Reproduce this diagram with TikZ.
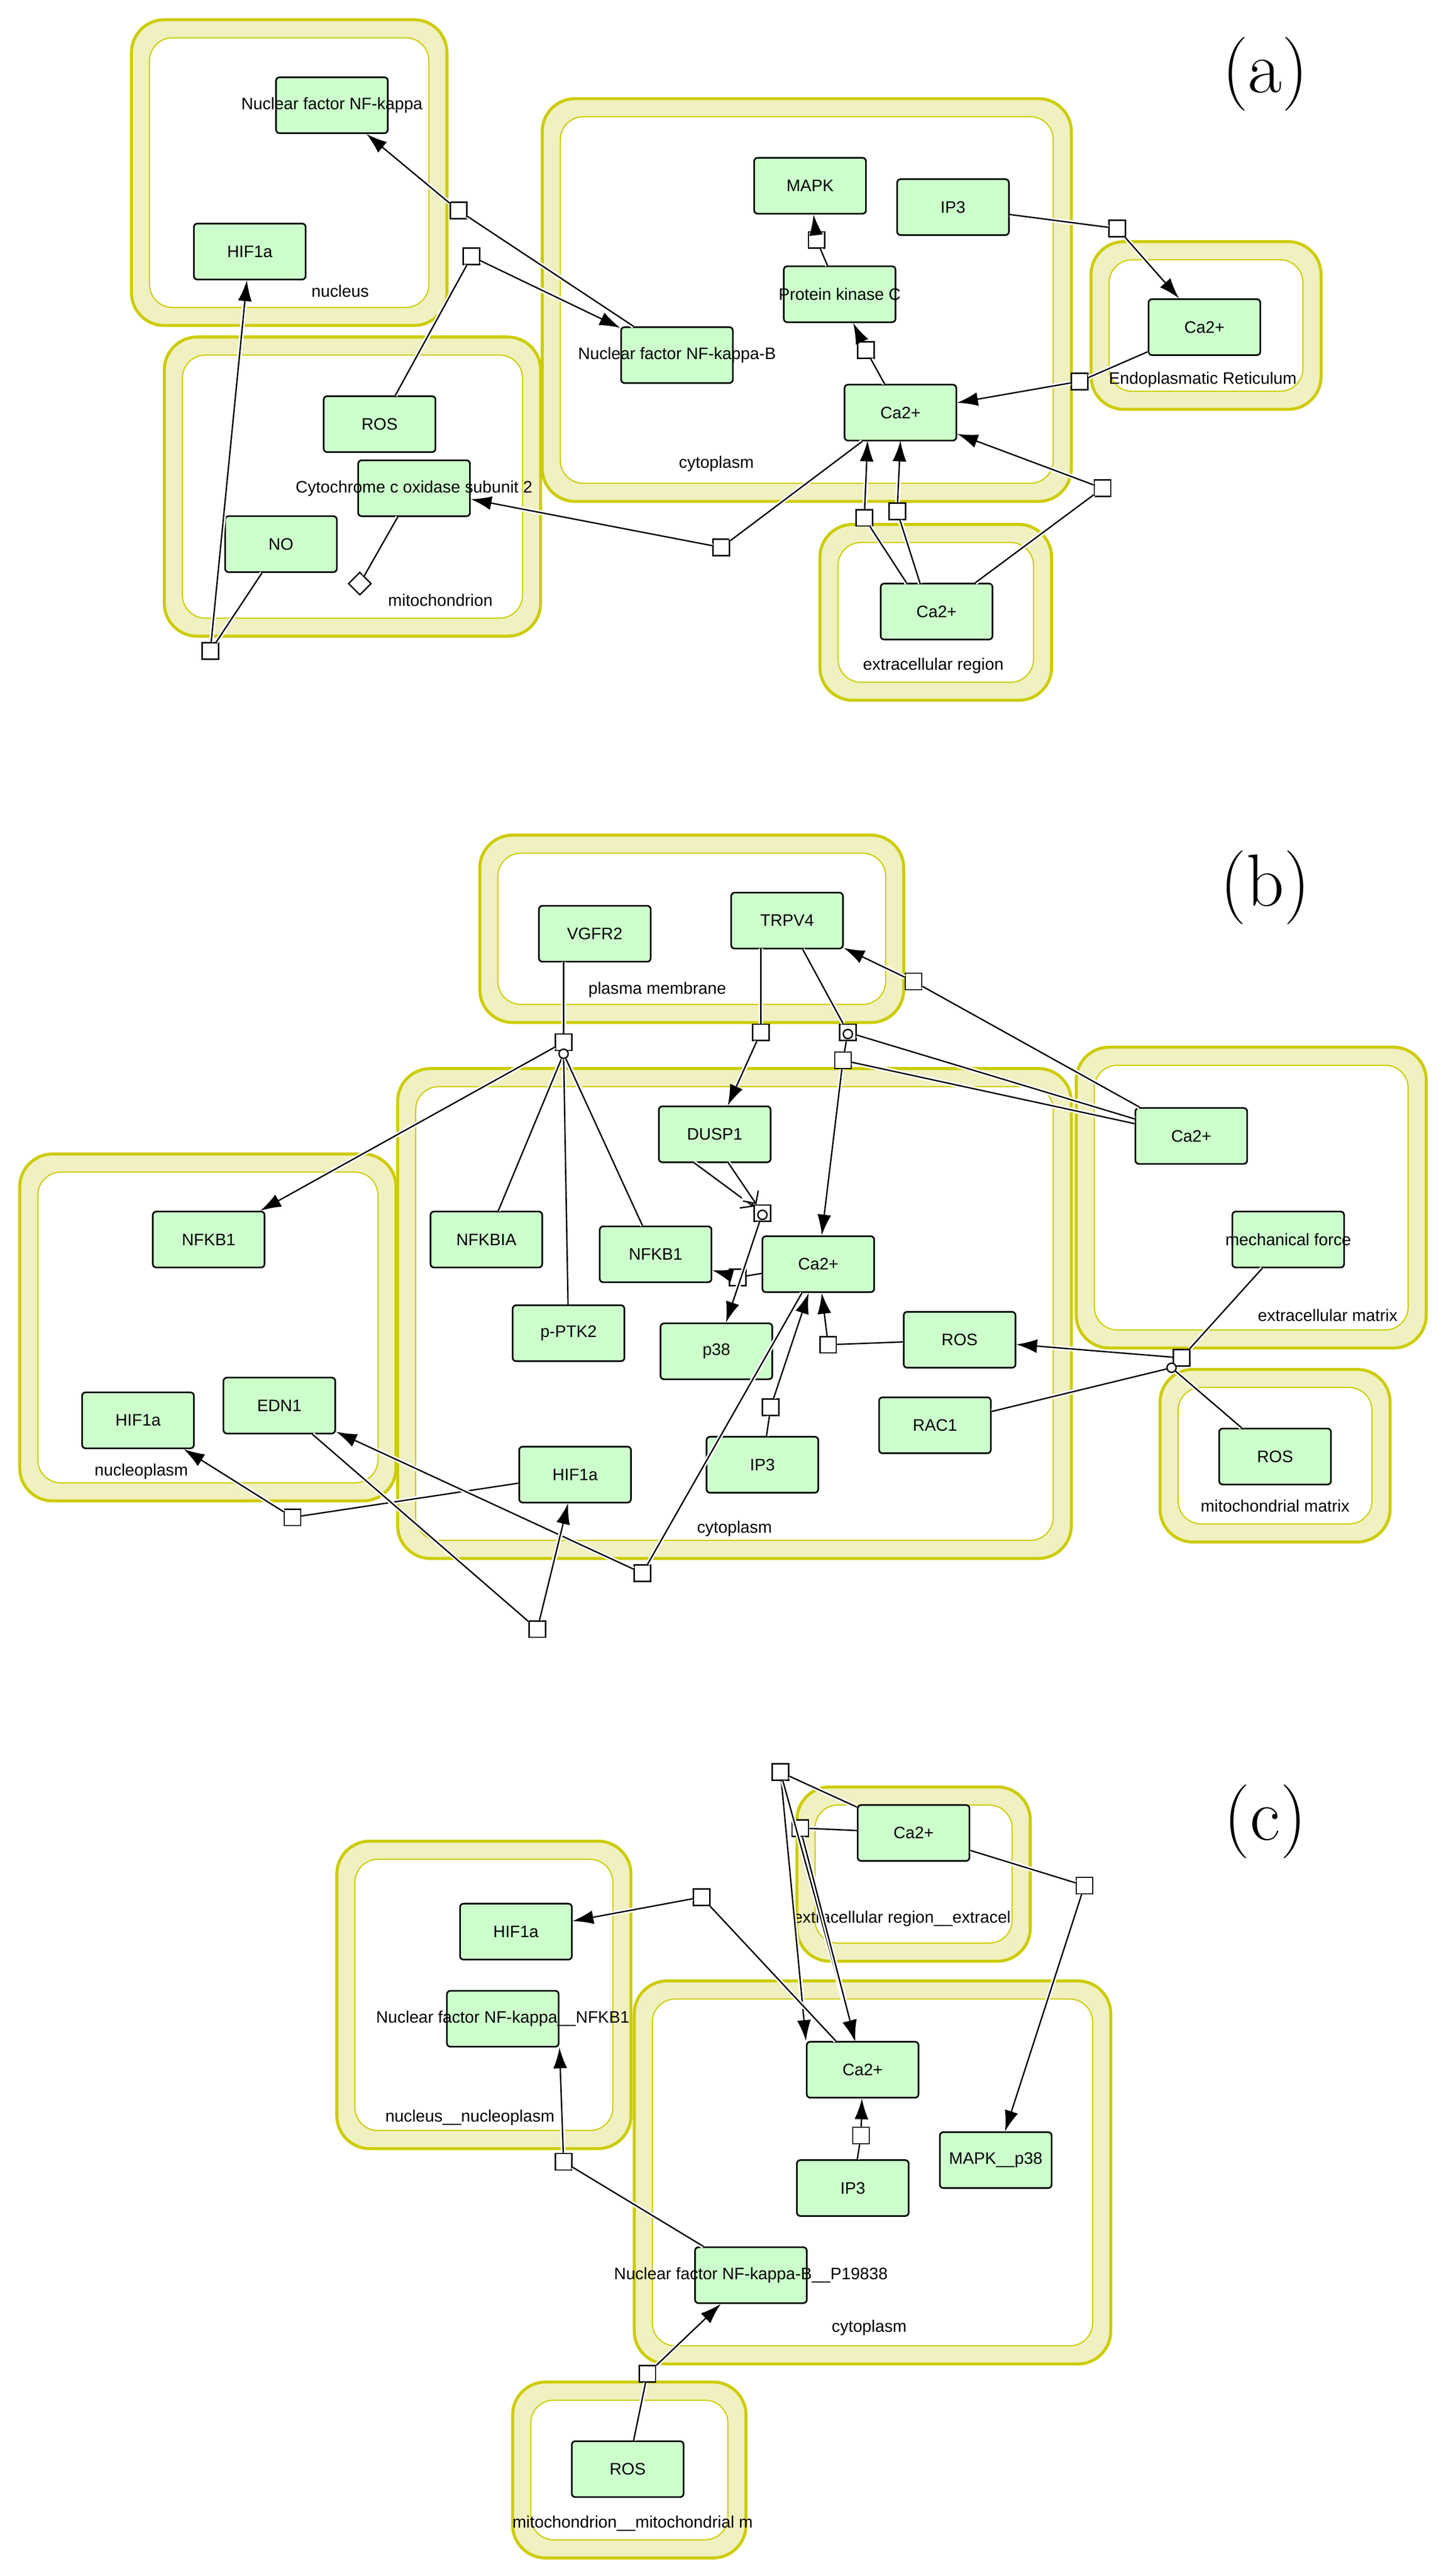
\documentclass[tikz,border=0pt]{standalone}
\usepackage{fontspec}
\setsansfont{Liberation Sans}
\usetikzlibrary{arrows.meta,shapes.geometric}
\definecolor{cfill}{HTML}{F0F0C0}
\definecolor{cline}{HTML}{CCCC00}
\definecolor{gfill}{HTML}{CCFFCC}
\tikzset{
 comp/.style={draw=cline,line width=1.3pt,fill=cfill,rounded corners=0.5cm},
 compin/.style={draw=cline,line width=0.5pt,fill=white,rounded corners=0.35cm},
 clab/.style={font=\sffamily\fontsize{7.2}{8}\selectfont},
 gn/.style={draw,line width=0.7pt,fill=gfill,rounded corners=1.5pt,minimum width=1.7cm,minimum height=0.85cm,inner sep=0pt},
 pr/.style={draw,line width=0.6pt,fill=white,minimum size=0.25cm,inner sep=0pt},
 cir/.style={draw,line width=0.6pt,fill=white,circle,minimum size=0.14cm,inner sep=0pt},
 ed/.style={line width=0.6pt,preaction={draw=white,line width=2pt}},
 ar/.style={ed,-{Latex[length=9pt,width=6pt]}},
 big/.style={font=\fontsize{32}{36}\selectfont},
}
\newcommand{\gnd}[4]{\node[gn,label={[clab]center:#4}] (#1) at (#2,#3) {};}
\newcommand{\compt}[6]{\draw[comp] (#1,#2) rectangle (#3,#4);
 \draw[compin] (#1+11,#2+11) rectangle (#3-11,#4-11);}
\begin{document}
\begin{tikzpicture}[x=0.025cm,y=-0.025cm]
\useasboundingbox (0,0) rectangle (880,1567);
% ---------------- (a)
\compt{80}{12}{272}{198}{}{}
\compt{100}{205}{329}{387}{}{}
\compt{330}{60}{652}{305}{}{}
\compt{664}{147}{804}{249}{}{}
\compt{499}{319}{640}{426}{}{}
\node[clab] (la1) at (207,177) {nucleus};
\node[clab] (la2) at (268,365) {mitochondrion};
\node[clab] (la3) at (436,282) {cytoplasm};
\node[clab] (la4) at (732,231) {Endoplasmatic Reticulum};
\node[clab] (la5) at (568,405) {extracellular region};
\node[big] (ta) at (770,45) {(a)};
\gnd{anfk}{202}{64}{Nuclear factor NF-kappa}
\gnd{ahif}{152}{153}{HIF1a}
\gnd{anfkb}{412}{216}{Nuclear factor NF-kappa-B}
\gnd{aros}{231}{258}{ROS}
\gnd{acox}{252}{297}{Cytochrome c oxidase subunit 2}
\gnd{ano}{171}{331}{NO}
\gnd{amapk}{493}{113}{MAPK}
\gnd{aip3}{580}{126}{IP3}
\gnd{apkc}{511}{179}{Protein kinase C}
\gnd{aca}{548}{251}{Ca2+}
\gnd{acaer}{733}{199}{Ca2+}
\gnd{acaex}{570}{372}{Ca2+}
\node[pr] (as1) at (279,128) {};
\node[pr] (as2) at (287,156) {};
\node[pr] (as3) at (128,396) {};
\node[draw,line width=0.6pt,fill=white,diamond,minimum size=0.35cm,inner sep=0pt] (adia) at (219,355) {};
\node[pr] (as4) at (439,333) {};
\node[pr] (as5) at (527,213) {};
\node[pr] (as6) at (497,146) {};
\node[pr] (as7) at (680,139) {};
\node[pr] (as8) at (657,232) {};
\node[pr] (as9) at (671,297) {};
\node[pr] (as10) at (526,315) {};
\node[pr] (as11) at (546,311) {};
\coordinate (aca1) at (528,268); \coordinate (aca2) at (548,268);
\coordinate (aex1) at (552,355); \coordinate (aex2) at (560,355);
\draw[ed] (anfkb) -- (as1); \draw[ar] (as1) -- (anfk);
\draw[ed] (aros) -- (as2); \draw[ar] (as2) -- (anfkb);
\draw[ed] (ano) -- (as3); \draw[ar] (as3) -- (ahif);
\draw[ed] (acox) -- (adia);
\draw[ed] (aca) -- (as4); \draw[ar] (as4) -- (acox);
\draw[ed] (aca) -- (as5); \draw[ar] (as5) -- (apkc);
\draw[ed] (apkc) -- (as6); \draw[ar] (as6) -- (amapk);
\draw[ed] (aip3) -- (as7); \draw[ar] (as7) -- (acaer);
\draw[ed] (acaer) -- (as8); \draw[ar] (as8) -- (aca);
\draw[ed] (acaex) -- (as9); \draw[ar] (as9) -- (aca);
\draw[ed] (aex1) -- (as10); \draw[ar] (as10) -- (aca1);
\draw[ed] (aex2) -- (as11); \draw[ar] (as11) -- (aca2);
% ---------------- (b)
\compt{292}{508}{550}{622}{}{}
\compt{242}{650}{652}{948}{}{}
\compt{12}{702}{241}{913}{}{}
\compt{655}{637}{868}{820}{}{}
\compt{706}{833}{846}{938}{}{}
\node[clab] (lb1) at (400,602) {plasma membrane};
\node[clab] (lb2) at (447,930) {cytoplasm};
\node[clab] (lb3) at (86,895) {nucleoplasm};
\node[clab] (lb4) at (808,800) {extracellular matrix};
\node[clab] (lb5) at (776,916) {mitochondrial matrix};
\node[big] (tb) at (770,540) {(b)};
\gnd{bvg}{362}{568}{VGFR2}
\gnd{btr}{479}{560}{TRPV4}
\gnd{bdu}{435}{690}{DUSP1}
\gnd{bnn}{127}{754}{NFKB1}
\gnd{bnia}{296}{754}{NFKBIA}
\gnd{bnc}{399}{763}{NFKB1}
\gnd{bca}{498}{769}{Ca2+}
\gnd{bpt}{346}{811}{p-PTK2}
\gnd{bp38}{436}{822}{p38}
\gnd{brc}{584}{815}{ROS}
\gnd{brac}{569}{867}{RAC1}
\gnd{bip3}{464}{891}{IP3}
\gnd{bhn}{84}{864}{HIF1a}
\gnd{bedn}{170}{855}{EDN1}
\gnd{bhc}{350}{897}{HIF1a}
\gnd{bce}{725}{691}{Ca2+}
\gnd{bmf}{784}{754}{mechanical force}
\gnd{brm}{776}{886}{ROS}
\node[pr] (bp1) at (343,634) {}; \node[cir] (bc1) at (343,641) {};
\node[pr] (bp2) at (463,628) {};
\node[pr] (bp3) at (516,628) {}; \node[cir] (bc3) at (516,629) {};
\node[pr] (bp4) at (513,645) {};
\node[pr] (bp5) at (556,597) {};
\node[pr] (bp6) at (464,738) {}; \node[cir] (bc6) at (464,739) {};
\node[pr] (bp7) at (449,777) {};
\node[pr] (bp8) at (504,818) {};
\node[pr] (bp9) at (469,856) {};
\node[pr] (bp10) at (719,826) {}; \node[cir] (bc10) at (713,832) {};
\node[pr] (bp11) at (178,923) {};
\node[pr] (bp12) at (391,957) {};
\node[pr] (bp13) at (327,991) {};
\coordinate (bvgs) at (343,585); \coordinate (btrs) at (463,577);
\draw[ed] (bvgs) -- (bp1); \draw[ar] (bp1) -- (bnn);
\draw[ed] (bnia) -- (bc1); \draw[ed] (bpt) -- (bc1); \draw[ed] (bnc) -- (bc1);
\draw[ed] (btrs) -- (bp2); \draw[ar] (bp2) -- (bdu);
\draw[ed] (btr) -- (bp3); \draw[ed] (bce) -- (bp3); \draw[ed] (bp3) -- (bp4);
\draw[ed] (bce) -- (bp4); \draw[ar] (bp4) -- (bca);
\draw[ed] (bce) -- (bp5); \draw[ar] (bp5) -- (btr);
\coordinate (bd1) at (422,707); \coordinate (bd2) at (443,707);
\draw[ed,-{Straight Barb[length=4pt]}] (bd1) -- (bp6);
\draw[ed,-{Straight Barb[length=4pt]}] (bd2) -- (bp6);
\draw[ar] (bp6) -- (bp38);
\draw[ed] (bca) -- (bp7); \draw[ar] (bp7) -- (bnc);
\draw[ed] (brc) -- (bp8); \draw[ar] (bp8) -- (bca);
\draw[ed] (bip3) -- (bp9); \draw[ar] (bp9) -- (bca);
\draw[ed] (bmf) -- (bp10); \draw[ed] (brm) -- (bc10); \draw[ed] (brac) -- (bc10);
\draw[ar] (bp10) -- (brc);
\draw[ed] (bhc) -- (bp11); \draw[ar] (bp11) -- (bhn);
\draw[ed] (bp12) -- (bca); \draw[ar] (bp12) -- (bedn);
\draw[ed] (bedn) -- (bp13); \draw[ar] (bp13) -- (bhc);
% ---------------- (c)
\compt{485}{1087}{627}{1193}{}{}
\compt{205}{1120}{384}{1307}{}{}
\compt{386}{1205}{676}{1438}{}{}
\compt{312}{1449}{454}{1556}{}{}
\node[clab] (lc1) at (549,1167) {extracellular region\_\_extracel};
\node[clab] (lc2) at (286,1288) {nucleus\_\_nucleoplasm};
\node[clab] (lc3) at (529,1416) {cytoplasm};
\node[clab] (lc4) at (385,1535) {mitochondrion\_\_mitochondrial m};
\node[big] (tc) at (770,1108) {(c)};
\gnd{ccx}{556}{1115}{Ca2+}
\gnd{chif}{314}{1175}{HIF1a}
\gnd{cnf1}{306}{1228}{Nuclear factor NF-kappa\_\_NFKB1}
\gnd{cca}{525}{1259}{Ca2+}
\gnd{cip3}{519}{1331}{IP3}
\gnd{cmapk}{606}{1314}{MAPK\_\_p38}
\gnd{cnfb}{457}{1384}{Nuclear factor NF-kappa-B\_\_P19838}
\gnd{cros}{382}{1502}{ROS}
\node[pr] (cq1) at (475,1078) {};
\node[pr] (cq2) at (487,1112) {};
\node[pr] (cq3) at (427,1154) {};
\node[pr] (cq4) at (660,1147) {};
\node[pr] (cq5) at (524,1299) {};
\node[pr] (cq6) at (343,1315) {};
\node[pr] (cq7) at (394,1444) {};
\draw[ed] (ccx) -- (cq1); \draw[ar] (cq1) -- (cca.north west);
\draw[ar] (cq1) -- (cca);
\draw[ed] (ccx) -- (cq2); \draw[ar] (cq2) -- (cca);
\draw[ed] (cca) -- (cq3); \draw[ar] (cq3) -- (chif);
\draw[ed] (ccx) -- (cq4); \draw[ar] (cq4) -- (cmapk);
\draw[ed] (cip3) -- (cq5); \draw[ar] (cq5) -- (cca);
\draw[ed] (cnfb) -- (cq6); \draw[ar] (cq6) -- (cnf1.south east);
\draw[ed] (cros) -- (cq7); \draw[ar] (cq7) -- (cnfb);
\end{tikzpicture}
\end{document}
